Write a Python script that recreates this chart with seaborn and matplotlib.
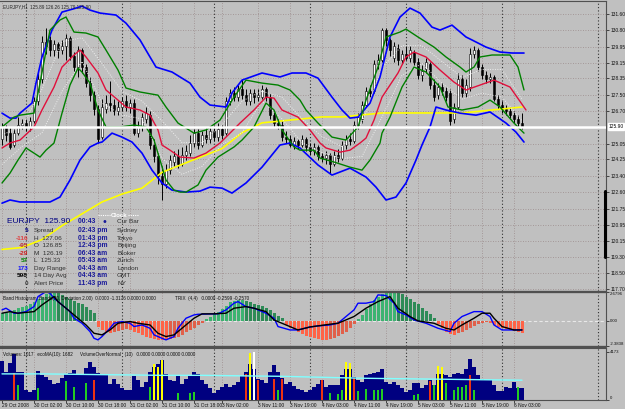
import matplotlib
matplotlib.use("Agg")
import matplotlib.pyplot as plt
import matplotlib.transforms as mtransforms
from matplotlib.lines import Line2D
import seaborn as sns
import numpy as np


#%% Data
# EURJPY H1 candles, bar 0 = 29 Oct 2008 18:00

Open = [125.3, 125.9, 125.6, 125.0, 125.6, 126.0, 126.1, 125.9, 126.2, 127.2,
        128.3, 130.2, 130.3, 129.8, 130.1, 129.8, 130.0, 130.4, 129.5, 128.9,
        129.8, 128.9, 128.1, 127.5, 126.8, 125.4, 126.8, 127.1, 127.0, 126.7,
        126.9, 127.2, 126.9, 127.1, 125.6, 125.9, 126.3, 126.5, 125.0, 124.4,
        123.4, 123.0, 123.7, 124.1, 124.4, 124.0, 124.5, 124.6, 125.1, 125.6,
        125.0, 125.5, 125.3, 125.7, 125.4, 125.8, 125.6, 127.2, 127.6, 127.4,
        127.8, 127.5, 127.2, 127.6, 127.4, 127.4, 127.8, 127.4, 126.5, 126.1,
        126.0, 125.4, 125.3, 125.0, 125.2, 125.0, 125.3, 124.9, 124.7, 124.9,
        124.4, 124.3, 124.5, 124.0, 124.5, 124.3, 125.0, 125.3, 125.2, 126.0,
        126.3, 127.0, 127.7, 127.7, 129.1, 129.3, 130.8, 130.3, 129.4, 129.9,
        129.3, 129.6, 129.4, 129.7, 129.2, 128.5, 128.8, 129.1, 128.0, 127.5,
        127.9, 127.7, 127.6, 126.3, 126.9, 128.3, 127.6, 127.9, 129.6, 129.8,
        128.9, 128.5, 128.3, 128.4, 127.3, 127.0, 126.8, 126.7, 126.5, 126.3,
        126.1]

High = [126.1, 126.0, 125.9, 125.8, 126.4, 126.3, 126.3, 126.4, 127.4, 128.6,
        130.5, 130.9, 130.5, 130.3, 130.2, 130.3, 130.6, 130.5, 129.7, 130.0,
        129.9, 129.1, 128.4, 127.7, 127.0, 127.3, 127.5, 128.2, 127.3, 127.2,
        127.4, 127.5, 127.3, 127.3, 126.2, 126.6, 126.9, 126.7, 125.3, 124.6,
        123.9, 124.0, 124.5, 124.7, 124.8, 124.9, 125.0, 125.5, 125.8, 125.8,
        125.7, 125.9, 125.9, 126.0, 126.1, 126.0, 127.4, 127.8, 127.9, 128.0,
        128.3, 127.8, 127.8, 127.8, 127.8, 128.0, 127.9, 127.6, 126.7, 126.3,
        126.2, 125.7, 125.5, 125.4, 125.3, 125.5, 125.4, 125.1, 125.1, 125.0,
        124.6, 124.7, 124.6, 124.7, 124.8, 125.2, 125.5, 125.6, 126.2, 126.6,
        127.2, 127.9, 128.0, 129.3, 129.6, 130.9, 130.9, 130.4, 130.2, 130.1,
        129.8, 130.0, 130.0, 129.8, 129.4, 129.0, 129.4, 129.2, 128.3, 128.1,
        128.1, 127.9, 127.8, 127.1, 128.6, 128.5, 128.3, 129.9, 130.0, 129.9,
        129.1, 128.7, 128.6, 128.5, 127.5, 127.2, 127.0, 126.9, 126.7, 126.5,
        126.6]

Low = [125.0, 125.2, 124.8, 124.9, 125.5, 125.8, 125.7, 125.7, 126.1, 127.0,
       128.1, 129.6, 129.5, 129.5, 129.4, 129.6, 129.3, 129.3, 128.7, 128.4,
       128.6, 127.9, 127.2, 126.5, 125.1, 125.3, 126.6, 126.7, 126.5, 126.5,
       126.7, 126.7, 126.6, 125.5, 125.4, 125.7, 126.1, 124.8, 124.1, 123.0,
       122.2, 122.8, 123.5, 123.9, 123.8, 123.9, 124.2, 124.4, 124.9, 124.8,
       124.9, 125.1, 125.1, 125.2, 125.2, 125.3, 125.5, 127.0, 127.2, 127.2,
       127.3, 127.0, 127.0, 127.1, 127.2, 127.3, 127.2, 126.3, 125.9, 125.8,
       125.2, 125.1, 124.9, 124.8, 124.8, 124.9, 124.7, 124.5, 124.5, 124.2,
       124.1, 124.0, 123.5, 123.9, 124.1, 124.2, 124.8, 125.0, 125.1, 125.8,
       126.1, 126.9, 127.4, 127.6, 128.8, 129.2, 130.0, 129.5, 129.2, 129.0,
       129.1, 129.3, 129.2, 129.0, 128.3, 128.2, 128.6, 127.8, 127.2, 127.3,
       127.5, 127.2, 126.0, 126.1, 126.8, 127.4, 127.4, 127.7, 129.4, 128.7,
       128.3, 128.1, 128.1, 127.2, 126.8, 126.6, 126.5, 126.3, 126.1, 125.9,
       125.8]

Close = [125.9, 125.5, 124.9, 125.6, 126.0, 126.1, 125.9, 126.2, 127.2, 128.3,
         130.2, 130.0, 129.8, 130.1, 129.8, 130.0, 130.4, 129.5, 128.9, 129.8,
         128.9, 128.1, 127.5, 126.8, 125.3, 126.9, 127.1, 127.0, 126.7, 126.9,
         127.2, 126.9, 127.1, 125.6, 125.9, 126.4, 126.6, 125.0, 124.4, 123.4,
         123.0, 123.7, 124.2, 124.4, 124.0, 124.5, 124.7, 125.1, 125.6, 125.0,
         125.5, 125.3, 125.7, 125.4, 125.8, 125.5, 127.2, 127.6, 127.4, 127.8,
         127.5, 127.2, 127.6, 127.4, 127.5, 127.8, 127.4, 126.5, 126.1, 126.0,
         125.4, 125.3, 125.0, 125.2, 125.0, 125.3, 124.9, 124.7, 124.9, 124.4,
         124.3, 124.5, 124.0, 124.5, 124.3, 125.0, 125.3, 125.2, 126.0, 126.4,
         127.0, 127.7, 127.6, 129.1, 129.3, 130.8, 130.3, 129.8, 130.0, 129.3,
         129.6, 129.4, 129.8, 129.2, 128.5, 128.7, 129.2, 128.0, 127.4, 127.9,
         127.7, 127.4, 126.2, 126.9, 128.3, 127.6, 128.0, 129.6, 129.8, 128.9,
         128.5, 128.3, 128.4, 127.3, 127.0, 126.8, 126.7, 126.5, 126.3, 126.1,
         125.9]

# Bollinger style bands at the bar positions listed
Blue_Up_Bars = [0, 2, 3.5, 4.5, 7.5, 8.5, 10, 12.5, 15, 18.5, 20, 22, 24.5,
                28.5, 31, 34.5, 37, 38.5, 42.5, 47, 49.5, 52, 56, 57.5, 60, 65,
                69.5, 72.5, 76, 79, 82.5, 85, 87, 89, 92, 94.5, 97, 99.5, 102,
                104.5, 107.5, 109.5, 112.5, 116, 117.5, 121, 124.5, 127.5, 130.5]
Blue_Upper = [126.59, 126.34, 126.34, 126.59, 127.10, 128.11, 129.43, 130.79,
              131.70, 131.90, 132.00, 131.80, 131.65, 131.55, 131.14, 130.29,
              129.43, 128.92, 128.67, 128.11, 127.40, 127.00, 126.90, 127.61,
              128.26, 128.62, 128.42, 128.62, 128.62, 128.36, 127.40, 126.75,
              126.34, 126.39, 127.10, 128.42, 130.44, 131.45, 131.90, 131.65,
              130.94, 130.79, 131.04, 130.44, 130.29, 129.93, 129.68, 129.63,
              129.63]

Blue_Lo_Bars = [0, 2, 4.5, 12, 14.5, 17, 19.5, 22, 24, 25, 27.5, 30, 32.5, 35,
                37.5, 40, 42.5, 46, 49.5, 52, 55, 57.5, 61, 65, 69.5, 72, 74.5,
                79, 82.5, 87, 91, 93.5, 96, 98.5, 101, 103.5, 105, 107, 108.5,
                111, 114.5, 118.5, 122, 126, 128.5, 130.5]
Blue_Lower = [122.04, 122.20, 122.10, 122.10, 122.35, 123.21, 124.22, 124.88,
              125.08, 125.13, 125.58, 125.38, 125.13, 124.57, 123.71, 123.06,
              122.70, 122.60, 122.65, 122.85, 122.80, 122.55, 123.06, 123.86,
              124.98, 125.08, 124.83, 123.97, 123.46, 123.81, 123.36, 122.85,
              122.20, 122.35, 123.06, 124.22, 124.98, 125.89, 126.90, 126.75,
              126.59, 126.49, 126.65, 126.09, 125.63, 125.13]

Green_Up_Bars = [0, 3, 4.5, 8, 9.5, 12, 14.5, 16, 18, 21, 24, 26, 29, 31, 34.5,
                 39, 41, 44, 48, 51, 54.5, 58, 61, 65, 69, 72, 74.5, 76, 79,
                 82.5, 86, 89, 91, 94, 96, 99.5, 101, 104, 108, 111, 114.5, 116,
                 118, 119.5, 122.5, 127, 129, 130.5]
Green_Upper = [125.89, 126.39, 126.49, 126.59, 128.11, 130.79, 131.30, 131.45,
               130.69, 130.64, 130.44, 129.78, 128.77, 127.86, 127.66, 127.50,
               126.90, 126.09, 125.58, 125.74, 126.24, 127.40, 128.26, 128.11,
               128.01, 127.76, 127.25, 126.75, 126.09, 125.38, 125.23, 125.89,
               127.25, 128.92, 130.44, 130.69, 130.84, 130.44, 129.93, 129.43,
               128.92, 128.67, 128.92, 129.43, 129.53, 129.53, 128.92, 127.76]

Green_Lo_Bars = [0, 2, 4, 6, 8, 9.5, 11, 13, 15, 17, 19, 20, 22, 24, 26, 29.5,
                 33, 36, 38, 39.5, 41, 43, 44.5, 46, 49, 51, 54, 58, 60, 63, 66,
                 68, 70, 73, 74.5, 78, 79.5, 83, 87, 90, 92, 94.5, 95, 97, 100,
                 103, 106, 109.5, 111.5, 115, 119, 122, 124.5, 128, 130.5]
Green_Lower = [123.06, 123.56, 124.22, 124.83, 124.57, 124.37, 124.72, 125.08,
               126.59, 128.01, 128.87, 128.67, 128.11, 126.75, 125.89, 125.89,
               125.99, 125.89, 125.23, 124.22, 123.21, 122.70, 122.60, 122.60,
               122.96, 123.71, 124.37, 124.88, 125.23, 125.89, 127.10, 126.75,
               125.74, 124.88, 124.72, 124.72, 124.32, 124.12, 123.86, 123.71,
               124.22, 125.08, 125.58, 126.39, 127.91, 128.92, 128.67, 127.91,
               126.90, 126.75, 126.90, 127.25, 126.90, 126.09, 125.58]

Red_Bars = [0, 2, 4.5, 8, 10, 13, 15, 18, 19.5, 21, 24, 26, 29, 31, 34.5, 37,
            39, 40, 42, 44.5, 48, 51, 54.5, 56, 59.5, 63, 66, 68, 70, 74, 77,
            79.5, 81, 84.5, 87, 89.5, 91, 93, 95, 99, 101, 103, 106, 109.5,
            113, 116, 119.5, 123, 127, 131]
Red_MA = [124.83, 125.08, 125.23, 125.89, 126.75, 127.91, 128.92, 129.53,
          129.78, 129.43, 128.62, 127.76, 127.25, 126.90, 126.75, 126.49,
          125.74, 124.98, 124.72, 124.37, 124.32, 124.57, 125.08, 125.38,
          126.09, 126.75, 127.40, 127.35, 126.75, 126.39, 125.74, 125.08,
          124.83, 124.62, 124.72, 125.08, 125.33, 126.24, 127.40, 128.62,
          129.43, 129.68, 129.43, 128.77, 128.16, 127.76, 128.01, 128.26,
          127.91, 126.75]

# dotted inner bands and slow yellow MA, every 5 bars
Band_Bars = [0, 5, 10, 15, 20, 25, 30, 35, 40, 45, 50, 55, 60, 65, 70, 75, 80,
             85, 90, 95, 100, 105, 110, 115, 120, 125, 130]
Dot_Upper = [125.5, 125.9, 127.8, 130.2, 130.4, 129.1, 127.7, 127.2, 126.2,
             125.1, 125.1, 126.0, 127.2, 127.7, 127.4, 126.3, 125.4, 124.9,
             126.1, 128.9, 130.0, 130.0, 129.2, 128.4, 128.8, 128.8, 127.3]
Dot_Lower = [124.0, 124.9, 125.6, 127.7, 129.2, 127.1, 126.5, 126.3, 124.3,
             123.5, 123.9, 125.0, 125.6, 127.2, 126.3, 125.1, 124.6, 124.3,
             124.4, 126.4, 128.5, 129.1, 128.1, 127.3, 127.6, 127.4, 126.2]
Yellow_MA = [119.7, 119.8, 120.2, 120.9, 121.5, 122.1, 122.5, 122.8, 123.6,
             124.0, 124.4, 124.8, 125.6, 126.1, 126.2, 126.3, 126.4, 126.4,
             126.5, 126.6, 126.6, 126.6, 126.6, 126.6, 126.7, 126.8, 126.9]

Price_Now = 125.90
Price_Ticks = [131.60, 130.80, 129.95, 129.15, 128.35, 127.50, 126.70, 125.05,
               124.25, 123.40, 122.60, 121.75, 120.95, 120.15, 119.30, 118.50,
               117.70]

# Band histogram
Hist = [0.69, 0.78, 0.91, 1.00, 1.16, 1.28, 1.41, 1.53, 1.72, 2.03,
        2.25, 2.47, 2.66, 2.72, 2.63, 2.41, 2.19, 2.00, 1.84, 1.69,
        1.53, 1.31, 1.00, 0.69, -0.56, -0.87, -1.03, -1.19, -1.03, -0.97,
        -0.87, -0.78, -0.87, -1.03, -1.19, -1.34, -1.50, -1.59, -1.72, -1.81,
        -1.81, -1.81, -1.72, -1.66, -1.50, -1.34, -1.09, -0.87, -0.66, -0.41,
        -0.22, 0.16, 0.38, 0.59, 0.84, 1.09, 1.41, 1.72, 1.84, 1.94,
        1.94, 1.84, 1.72, 1.59, 1.47, 1.34, 1.16, 0.97, 0.69, 0.44,
        0.22, -0.41, -0.66, -0.87, -1.09, -1.28, -1.44, -1.56, -1.66, -1.72,
        -1.81, -1.81, -1.72, -1.59, -1.44, -1.28, -1.03, -0.72, -0.34, 0.16,
        0.53, 1.09, 1.53, 1.94, 2.25, 2.53, 2.72, 2.78, 2.78, 2.66,
        2.47, 2.25, 2.03, 1.78, 1.53, 1.22, 0.91, 0.59, 0.28, -0.34,
        -0.72, -1.03, -1.28, -1.34, -1.19, -1.03, -0.87, -0.66, -0.47, -0.34,
        -0.22, -0.16, -0.25, -0.41, -0.56, -0.66, -0.78, -0.87, -0.97, -1.03,
        -1.19]

# TRIX lines
Trix_Blue_Bars = [0, 1, 3, 4, 6, 8, 9, 11, 12, 13, 15, 17, 18, 20, 22, 23, 24,
                  25, 27, 28, 30, 32, 33, 35, 37, 38, 40, 41, 43, 44, 46, 48,
                  49, 53, 54, 56, 58, 59, 61, 63, 64, 66, 68, 69, 72, 74, 77,
                  79, 82, 84, 86, 88, 89, 91, 93, 94, 96, 98, 99, 101, 103,
                  106, 108, 109, 112, 113, 115, 117, 118, 120, 122, 123, 125,
                  128, 130]
Trix_Blue = [1.00, 1.16, 0.69, 0.69, 0.84, 1.31, 2.25, 2.72, 2.56, 2.10, 1.47,
             0.84, 0.22, -0.25, -1.03, -1.66, -1.81, -1.50, -0.72, -0.25,
             -0.09, -0.25, -0.56, -0.41, -0.72, -1.34, -1.66, -1.81, -1.50,
             -0.72, 0.22, 0.53, 0.59, 0.63, 0.63, 1.00, 1.63, 1.78, 1.31,
             1.16, 1.00, 0.69, 0.22, -0.56, -0.88, -0.88, -0.60, -0.50,
             -0.41, -0.25, 0.38, 1.00, 1.63, 1.63, 1.78, 2.41, 2.35, 1.63,
             0.84, 0.53, 0.06, -0.25, -0.56, -0.72, -1.03, -0.25, 0.38, 0.69,
             0.84, 0.84, 0.38, -0.41, -0.88, -0.88, -0.88]
Trix_Black_Bars = [0, 2, 4, 8, 10, 13, 14, 16, 18, 21, 23, 25, 27, 29, 32, 34,
                   37, 39, 41, 43, 45, 48, 50, 53, 56, 58, 61, 63, 66, 68, 71,
                   74, 77, 82, 84, 88, 91, 94, 97, 99, 102, 104, 108, 111, 113,
                   115, 118, 120, 122, 123, 125, 128, 130]
Trix_Black = [0.69, 0.84, 0.69, 0.84, 1.47, 2.25, 1.78, 1.16, 0.53, -0.41,
              -1.19, -1.34, -0.88, -0.25, -0.09, -0.25, -0.41, -1.19, -1.50,
              -1.34, -0.72, 0.22, 0.63, 0.63, 0.69, 1.16, 1.31, 1.16, 0.84,
              0.06, -0.41, -0.88, -0.60, -0.34, -0.25, 0.38, 1.16, 1.78, 2.25,
              1.16, 0.38, -0.03, -0.25, -0.72, -0.88, -0.41, 0.22, 0.69, 0.69,
              0.22, -0.56, -0.88, -0.88]

# Volume
Volume = [3340, 2420, 3170, 3960, 2420, 2420, 835, 710, 835, 2545,
          2130, 2000, 1710, 1420, 1460, 1920, 2250, 2340, 2630, 2250,
          2130, 2800, 3255, 2880, 2340, 2130, 2250, 1420, 1835, 1420,
          1000, 835, 835, 2045, 1710, 1125, 1545, 2420, 2840, 3130,
          3420, 2250, 1750, 1625, 2045, 1420, 1835, 2130, 2420, 2250,
          1750, 1420, 1000, 625, 835, 1125, 1420, 1125, 1295, 1545,
          2045, 2420, 3130, 2710, 1835, 1710, 1460, 2420, 3045, 2420,
          1920, 1420, 1545, 1210, 920, 830, 710, 880, 1100, 1420,
          1710, 1125, 1295, 1335, 1295, 2130, 2710, 2710, 2000, 1710,
          1545, 2130, 2250, 2340, 2460, 2710, 1545, 1420, 1545, 1295,
          1000, 710, 835, 1500, 1500, 1000, 1295, 1710, 1295, 2250,
          2250, 2170, 2000, 2250, 2340, 2250, 2710, 3505, 2840, 2170,
          1835, 1710, 1710, 1295, 750, 750, 1125, 1000, 1545, 1045,
          1045]

# VolumeOverNormal overlay bars
Over_Bars = [3, 4, 9, 16, 18, 21, 23, 37, 38, 39, 40, 44, 47, 48, 61, 62, 63,
             64, 68, 69, 70, 80, 82, 84, 85, 86, 87, 88, 89, 91, 93, 94, 95,
             103, 104, 107, 108, 109, 110, 111, 113, 114, 115, 116, 117, 118,
             129]
Over_Vals = [2340, 1295, 1000, 1625, 1125, 1460, 1750, 1125, 3130, 2840, 3460,
             585, 625, 710, 2250, 4090, 4173, 1750, 1835, 835, 1835, 1710, 585,
             485, 850, 3320, 3210, 1900, 765, 935, 850, 850, 935, 425, 485,
             1620, 1335, 2895, 2840, 1505, 850, 1135, 1135, 1275, 2185, 850,
             1135]
Over_Kind = ["r", "g", "g", "g", "g", "g", "r", "g", "y", "y", "y", "g", "g",
             "g", "r", "y", "w", "r", "r", "g", "r", "r", "g", "g", "g", "y",
             "y", "r", "g", "g", "g", "g", "g", "g", "g", "r", "g", "y", "y",
             "g", "g", "g", "g", "g", "r", "g", "g"]

VolMA_Bars = [0, 10, 20, 30, 40, 50, 60, 70, 80, 90, 100, 110, 120, 130]
VolMA = [2255, 2255, 2210, 2170, 2130, 2130, 2085, 2045, 1960, 1880, 1835,
         1795, 1750, 1710]

# time axis
Time_Bars = [0, 8, 16, 24, 32, 40, 48, 55, 64, 72, 80, 88, 96, 104, 112, 120,
             128]
Time_Labels = ["29 Oct 2008", "30 Oct 02:00", "30 Oct 10:00", "30 Oct 18:00",
               "31 Oct 02:00", "31 Oct 10:00", "31 Oct 18:00", "3 Nov 02:00",
               "3 Nov 11:00", "3 Nov 19:00", "4 Nov 03:00", "4 Nov 11:00",
               "4 Nov 19:00", "5 Nov 03:00", "5 Nov 11:00", "5 Nov 19:00",
               "6 Nov 03:00"]
Day_Bars = [6, 30, 53, 77, 101, 125, 149]

# clock / info box
Info_Nums = ["5", "-116", "-95", "-29", "57", "173", "598", "0"]
Info_Num_Colors = ["#000080", "#e04040", "#c03030", "#d02020", "#008000",
                   "#1010ff", "#000000", "#404040"]
Info_Labels = ["Spread", "H  127.06", "O  126.85", "M  126.19", "L  125.33",
               "Day Range", "14 Day Avg", "Alert Price"]
Info_Times = ["02:43 pm", "01:43 pm", "12:43 pm", "06:43 am", "05:43 am",
              "04:43 am", "04:43 am", "11:43 pm"]
Info_Cities = ["Sydney", "Tokyo", "Beijing", "Broker", "Zurich", "London",
               "GMT", "NY"]


#%% Style

W_px, H_px = 625, 409
BG = "#C0C0C0"
Grid_Col = "#9a8a8a"
Sep_Col = "#303030"
Frame_Col = "#505050"

FontSize_Tick = 3.5
FontSize_Tick_Sub = 3.1
FontSize_Small = 3.3
FontSize_Info = 4.6
FontSize_Time = 4.9
FontSize_Head = 6.0

XLim = [-0.5, 151]
PriceLim = [117.60, 132.26]
IndLim = [-2.3838, 2.6796]
VolLim = [0, 4490]

sns.set_style("white")
plt.rcParams['font.family'] = ['Liberation Sans', 'DejaVu Sans']


def fig_box(top_px, bottom_px):
    # axes rect from pixel rows
    return [0, 1 - bottom_px / H_px, 606 / W_px, (bottom_px - top_px) / H_px]


Fig = plt.figure(figsize=(W_px / 100, H_px / 100), dpi=100)
Fig.patch.set_facecolor(BG)

ax = Fig.add_axes(fig_box(1, 291))
ax_ind = Fig.add_axes(fig_box(292, 346))
ax_vol = Fig.add_axes(fig_box(348, 400))

Bars = np.arange(len(Close))

for a in [ax, ax_ind, ax_vol]:
    a.set_facecolor(BG)
    a.set_xlim(XLim)
    for b in Time_Bars:
        a.axvline(b, color=Grid_Col, ls=(0, (1, 2)), lw=0.6, zorder=0)
    for b in Day_Bars:
        a.axvline(b, color=Sep_Col, ls=(0, (1, 2)), lw=0.8, zorder=0)
    a.spines['left'].set_visible(False)
    for s in ['top', 'right', 'bottom']:
        a.spines[s].set_color(Frame_Col)
        a.spines[s].set_linewidth(0.8)
    a.yaxis.tick_right()
    a.tick_params(axis='y', length=2, width=0.5, pad=1,
                  labelsize=FontSize_Tick, colors="#101010")
    a.tick_params(axis='x', bottom=False, labelbottom=False)


#%% Main price panel
ax.set_ylim(PriceLim)
ax.set_yticks(Price_Ticks)
ax.set_yticklabels(["%.2f" % p for p in Price_Ticks])
for p in Price_Ticks:
    ax.axhline(p, color=Grid_Col, ls=(0, (1, 2)), lw=0.6, zorder=0)

ax.axhline(Price_Now, color="white", lw=1.8, zorder=7)

# bands
sns.lineplot(x=Band_Bars, y=Yellow_MA, ax=ax, color="#ffff00", lw=1.2, zorder=5)
sns.lineplot(x=Band_Bars, y=Dot_Upper, ax=ax, color="#eeeeee", lw=0.7,
             ls=(0, (1, 1.5)), zorder=5)
sns.lineplot(x=Band_Bars, y=Dot_Lower, ax=ax, color="#eeeeee", lw=0.7,
             ls=(0, (1, 1.5)), zorder=5)
sns.lineplot(x=Blue_Up_Bars, y=Blue_Upper, ax=ax, color="#0000ff", lw=1.2,
             zorder=6)
sns.lineplot(x=Blue_Lo_Bars, y=Blue_Lower, ax=ax, color="#0000ff", lw=1.2,
             zorder=6)
sns.lineplot(x=Green_Up_Bars, y=Green_Upper, ax=ax, color="#008000", lw=1.0,
             zorder=6)
sns.lineplot(x=Green_Lo_Bars, y=Green_Lower, ax=ax, color="#008000", lw=1.0,
             zorder=6)
sns.lineplot(x=Red_Bars, y=Red_MA, ax=ax, color="#e0103c", lw=1.0, zorder=6)

# candles
ax.vlines(Bars, Low, High, color="black", lw=0.7, zorder=3)
Body_Low = np.minimum(Open, Close)
Body_H = np.maximum(np.abs(np.subtract(Close, Open)), 0.05)
Body_Col = ["white" if c >= o else "black" for o, c in zip(Open, Close)]
ax.bar(Bars, Body_H, bottom=Body_Low, width=0.62, color=Body_Col,
       edgecolor="black", linewidth=0.4, zorder=4)

# current price marker on the scale
Tr = mtransforms.blended_transform_factory(ax.transAxes, ax.transData)
ax.text(1.004, Price_Now, "125.90", transform=Tr, fontsize=FontSize_Tick,
        color="black", va="center", ha="left", zorder=12, clip_on=False,
        bbox=dict(fc="white", ec="white", pad=0.6))
ax.plot([0.999, 0.999], [119.30, 122.65], transform=Tr, color="black",
        lw=2.2, clip_on=False, zorder=12)

ax.text(0.005, 0.988, "EURJPY,H1  125.89 126.26 125.79 125.90",
        transform=ax.transAxes, fontsize=FontSize_Small, va="top", ha="left",
        zorder=12)

# clock box
def px(x, y):
    return x / W_px, 1 - y / H_px


Navy = "#1a1a9a"
Fig.text(*px(7, 222), "EURJPY  125.90", fontsize=FontSize_Head, color="#000080",
         va="center", ha="left")
Fig.text(*px(119, 215.5), "Clock", fontsize=4.4, color="white",
         fontweight="bold", va="center", ha="center")
for xs in [(98, 110), (128, 139)]:
    Fig.add_artist(Line2D([px(xs[0], 0)[0], px(xs[1], 0)[0]],
                          [px(0, 215.5)[1]] * 2, transform=Fig.transFigure,
                          color="white", lw=0.8, ls=(0, (1, 1))))
Fig.text(*px(78, 222), "00:43    \u25cf", fontsize=FontSize_Time, color=Navy,
         fontweight="bold", va="center", ha="left")
Fig.text(*px(117, 222), "Cur Bar", fontsize=FontSize_Info, color="#303030",
         va="center", ha="left")

Row_Y0, Row_Step = 230.7, 7.52
for k in range(len(Info_Nums)):
    yy = Row_Y0 + k * Row_Step
    Fig.text(*px(28, yy), Info_Nums[k], fontsize=FontSize_Info,
             color=Info_Num_Colors[k], fontweight="bold", va="center", ha="right")
    Fig.text(*px(34, yy), Info_Labels[k], fontsize=FontSize_Info,
             color="#303030", va="center", ha="left")
    Fig.text(*px(78, yy), Info_Times[k], fontsize=FontSize_Time, color=Navy,
             fontweight="bold", va="center", ha="left")
    Fig.text(*px(117, yy), Info_Cities[k], fontsize=FontSize_Info,
             color="#303030", va="center", ha="left")


#%% Band histogram + TRIX
ax_ind.set_ylim(IndLim)
ax_ind.set_yticks([2.6796, 0, -2.3838])
ax_ind.set_yticklabels(["2.6796", "0.00", "-2.3838"])
ax_ind.tick_params(axis='y', labelsize=FontSize_Tick_Sub)
Lbl = ax_ind.get_yticklabels()
Lbl[0].set_va("top")
Lbl[2].set_va("bottom")
ax_ind.axhline(0, color="#e8e8e8", ls=(0, (3, 2)), lw=0.8, zorder=1)

Hist_Col = []
for k, v in enumerate(Hist):
    prev = Hist[k - 1] if k > 0 else v
    if v >= 0:
        Hist_Col.append("#3cb371" if v >= prev else "#2e8b57")
    else:
        Hist_Col.append("#ff6347" if v <= prev else "#e0604a")
ax_ind.bar(Bars, Hist, width=0.75, color=Hist_Col, linewidth=0, zorder=2)

sns.lineplot(x=Trix_Blue_Bars, y=Trix_Blue, ax=ax_ind, color="#0000ff",
             lw=1.0, zorder=4)
sns.lineplot(x=Trix_Black_Bars, y=Trix_Black, ax=ax_ind, color="black",
             lw=1.0, zorder=4)

ax_ind.text(0.005, 0.93, "Band Histogram  Bands(20, Deviation 2.00)  "
            "0.0000 -1.3176 0.0000 0.0000", transform=ax_ind.transAxes,
            fontsize=FontSize_Small, va="top", ha="left", color="#101010")
ax_ind.text(175 / 606, 0.93, "TRIX  (4,4)   0.0000 -0.2599 -0.2570",
            transform=ax_ind.transAxes, fontsize=FontSize_Small, va="top",
            ha="left", color="#101010")


#%% Volume
ax_vol.set_ylim(VolLim)
ax_vol.set_yticks([4173, 0])
ax_vol.set_yticklabels(["4173", "0"])
ax_vol.tick_params(axis='y', labelsize=FontSize_Tick_Sub)
ax_vol.get_yticklabels()[1].set_va("bottom")

ax_vol.bar(Bars, Volume, width=0.8, color="#000080", linewidth=0, zorder=2)
Kind_Col = {"g": "#22cc22", "r": "#ee3311", "y": "#ffff00", "w": "#ffffff"}
ax_vol.bar(Over_Bars, Over_Vals, width=0.42, linewidth=0,
           color=[Kind_Col[k] for k in Over_Kind], zorder=3)
sns.lineplot(x=VolMA_Bars, y=VolMA, ax=ax_vol, color="#80ffff", lw=1.0,
             zorder=4)

ax_vol.text(0.005, 0.93, "Volumes: 1017   ecoMA(10): 1682",
            transform=ax_vol.transAxes, fontsize=FontSize_Small, va="top",
            ha="left", color="#101010")
ax_vol.text(80 / 606, 0.93, "VolumeOverNormal   (10)   0.0000 0.0000 0.0000 0.0000",
            transform=ax_vol.transAxes, fontsize=FontSize_Small, va="top",
            ha="left", color="#101010")

ax_vol.set_xticks(Time_Bars)
ax_vol.set_xticklabels(Time_Labels)
ax_vol.tick_params(axis='x', bottom=True, labelbottom=True, length=2,
                   width=0.5, pad=0.5, labelsize=FontSize_Tick, colors="#101010")
for t in ax_vol.get_xticklabels():
    t.set_ha("left")

# panel separators
for y in [291.5, 347.0]:
    Fig.add_artist(Line2D([0, 606 / W_px], [1 - y / H_px] * 2,
                          transform=Fig.transFigure, color="#505050", lw=1.6))

plt.savefig("out.png", dpi=100, facecolor=BG)
